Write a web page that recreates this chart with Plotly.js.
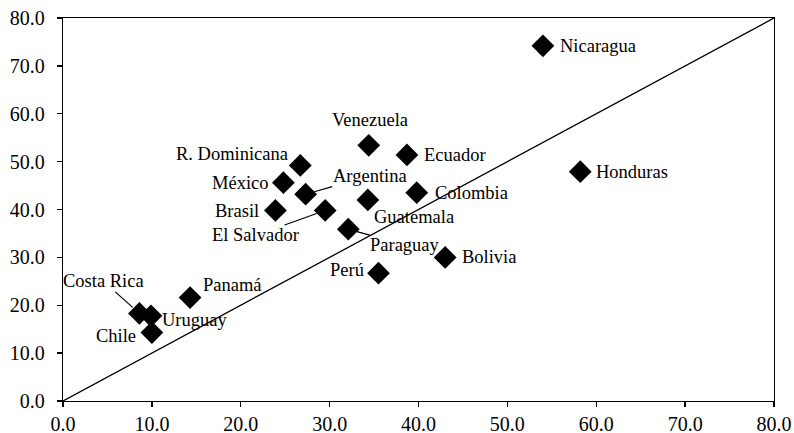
<!DOCTYPE html>
<html>
<head>
<meta charset="utf-8">
<script src="https://cdn.plot.ly/plotly-3.0.1.min.js"></script>
<style>
html,body{margin:0;padding:0;background:#fff;}
#chart{width:794px;height:433px;}
#chart text{font-family:"Liberation Serif","DejaVu Serif",serif !important;}
</style>
</head>
<body>
<div id="chart"></div>
<script>
// ---- data ----
var countries = ["Nicaragua","Honduras","Venezuela","Ecuador","R. Dominicana","México","Argentina","Colombia","Guatemala","Brasil","El Salvador","Paraguay","Bolivia","Perú","Panamá","Costa Rica","Uruguay","Chile"];
var xValues = [54.0, 58.2, 34.4, 38.7, 26.7, 24.8, 27.3, 39.8, 34.3, 23.9, 29.5, 32.1, 43.0, 35.5, 14.3, 8.6, 9.9, 10.0];
var yValues = [74.2, 47.9, 53.4, 51.4, 49.2, 45.6, 43.2, 43.5, 42.0, 39.8, 39.8, 35.9, 30.0, 26.7, 21.6, 18.3, 17.8, 14.3];
var diagX = [0, 80];
var diagY = [0, 80];
var tickVals = [0, 10, 20, 30, 40, 50, 60, 70, 80];
var tickText = ["0.0","10.0","20.0","30.0","40.0","50.0","60.0","70.0","80.0"];

// ---- label placement (pixel offsets from the marker, text centre) ----
var labelPlacement = {
  "Nicaragua":     {dx: 55,  dy: 0,   leader: false},
  "Honduras":      {dx: 52,  dy: 0,   leader: false},
  "Venezuela":     {dx: 1,   dy: -25, leader: false},
  "Ecuador":       {dx: 48,  dy: 0,   leader: false},
  "R. Dominicana": {dx: -68, dy: -11, leader: false},
  "México":        {dx: -43, dy: 0,   leader: false},
  "Argentina":     {dx: 64,  dy: -18, leader: true},
  "Colombia":      {dx: 55,  dy: 0,   leader: false},
  "Guatemala":     {dx: 46,  dy: 17,  leader: false},
  "Brasil":        {dx: -38, dy: 1,   leader: false},
  "El Salvador":   {dx: -70, dy: 25,  leader: true},
  "Paraguay":      {dx: 57,  dy: 16,  leader: true},
  "Bolivia":       {dx: 44,  dy: 0,   leader: false},
  "Perú":          {dx: -32, dy: -3,  leader: false},
  "Panamá":        {dx: 42,  dy: -13, leader: false},
  "Costa Rica":    {dx: -36, dy: -32, leader: true},
  "Uruguay":       {dx: 44,  dy: 4,   leader: false},
  "Chile":         {dx: -36, dy: 3,   leader: false}
};

var serif = "Liberation Serif";

var annotations = countries.map(function(c, i){
  var p = labelPlacement[c];
  if (p.leader) {
    return {
      x: xValues[i], y: yValues[i], xref: "x", yref: "y",
      text: c, showarrow: true, arrowhead: 0, arrowwidth: 1.2, arrowcolor: "#000",
      ax: p.dx, ay: p.dy, standoff: 9, borderpad: 0,
      font: {family: serif, size: 18.5, color: "#000"}
    };
  }
  return {
    x: xValues[i], y: yValues[i], xref: "x", yref: "y",
    text: c, showarrow: false, xshift: p.dx, yshift: -p.dy,
    font: {family: serif, size: 18.5, color: "#000"}
  };
});

var traces = [
  {
    x: diagX, y: diagY, mode: "lines", type: "scatter",
    line: {color: "#000", width: 1.3}, hoverinfo: "skip", showlegend: false
  },
  {
    x: xValues, y: yValues, text: countries, mode: "markers", type: "scatter",
    marker: {symbol: "diamond", size: 17.5, color: "#000"}, showlegend: false
  }
];

var axisCommon = {
  range: [0, 80], tickvals: tickVals, ticktext: tickText,
  ticks: "outside", ticklen: 5, tickwidth: 1.3, tickcolor: "#000",
  showline: true, linecolor: "#000", linewidth: 1.3, mirror: true,
  showgrid: false, zeroline: false,
  tickfont: {family: serif, size: 20, color: "#000"}
};

var layout = {
  width: 794, height: 433,
  margin: {l: 63, r: 20, t: 18, b: 32},
  paper_bgcolor: "#fff", plot_bgcolor: "#fff",
  font: {family: serif, color: "#000"},
  xaxis: Object.assign({}, axisCommon, {ticklabelstandoff: 0}),
  yaxis: Object.assign({}, axisCommon, {ticklabelstandoff: 8}),
  annotations: annotations,
  showlegend: false
};

Plotly.newPlot("chart", traces, layout, {staticPlot: true});
</script>
</body>
</html>
